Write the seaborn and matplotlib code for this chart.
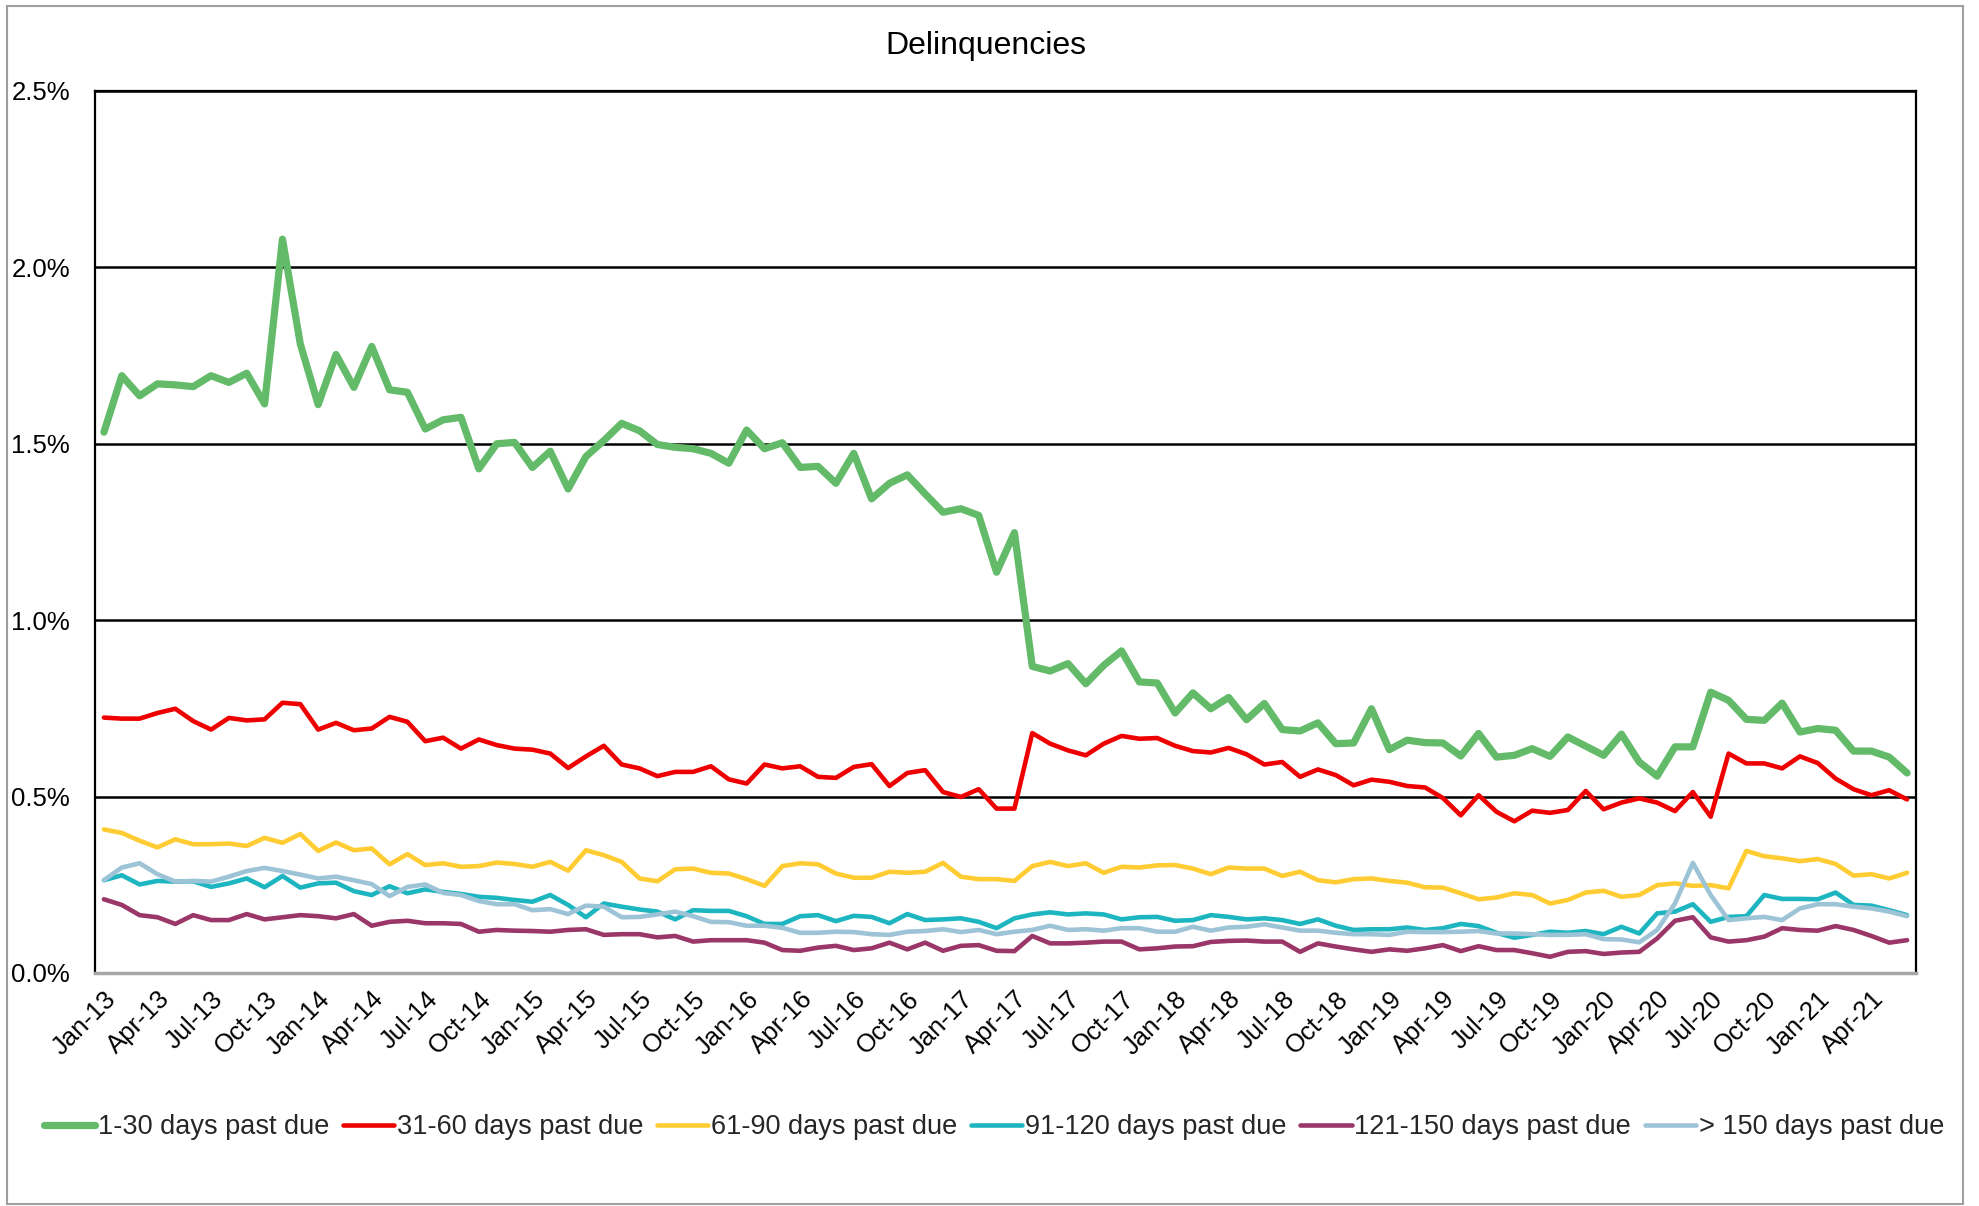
import seaborn as sns
import pandas as pd
import matplotlib.pyplot as plt
from matplotlib.patches import Rectangle
from matplotlib.ticker import FuncFormatter

# monthly delinquency rates in %, Jan-13 .. Jun-21
months = pd.date_range("2013-01-01", periods=102, freq="MS").strftime("%b-%y").tolist()

d1_30 = [1.533, 1.693, 1.636, 1.670, 1.667, 1.662, 1.693, 1.674, 1.700, 1.613, 2.080, 1.783, 1.611, 1.753,
         1.660, 1.776, 1.653, 1.646, 1.542, 1.568, 1.575, 1.429, 1.500, 1.504, 1.433, 1.479, 1.372, 1.464,
         1.509, 1.558, 1.537, 1.498, 1.490, 1.486, 1.473, 1.445, 1.539, 1.486, 1.503, 1.433, 1.436, 1.388,
         1.473, 1.344, 1.388, 1.412, 1.358, 1.306, 1.316, 1.297, 1.136, 1.248,
         0.869, 0.856, 0.877, 0.820, 0.872, 0.913, 0.825, 0.822, 0.737, 0.794, 0.749, 0.781, 0.718, 0.764,
         0.690, 0.686, 0.709, 0.650, 0.652, 0.749, 0.633, 0.660, 0.653, 0.652, 0.615, 0.679, 0.612,
         0.617, 0.636, 0.614, 0.669, 0.643, 0.617, 0.677, 0.598, 0.558, 0.641, 0.641, 0.796, 0.773, 0.719,
         0.716, 0.765, 0.683, 0.693, 0.688, 0.629, 0.629, 0.612, 0.567]
d31_60 = [0.724, 0.721, 0.721, 0.737, 0.749, 0.714, 0.690, 0.723, 0.716, 0.719, 0.766, 0.762, 0.690, 0.709,
          0.688, 0.693, 0.726, 0.712, 0.657, 0.667, 0.636, 0.662, 0.646, 0.636, 0.633, 0.622, 0.581, 0.614,
          0.644, 0.591, 0.580, 0.558, 0.570, 0.570, 0.586, 0.549, 0.537, 0.591, 0.580, 0.586, 0.556, 0.553,
          0.584, 0.592, 0.530, 0.567, 0.575, 0.513, 0.499, 0.521, 0.466, 0.466,
          0.680, 0.650, 0.631, 0.617, 0.650, 0.672, 0.664, 0.666, 0.644, 0.629, 0.625, 0.638, 0.620, 0.591,
          0.598, 0.556, 0.577, 0.561, 0.532, 0.548, 0.542, 0.530, 0.526, 0.496,
          0.447, 0.504, 0.457, 0.430, 0.460, 0.454, 0.462, 0.516, 0.464, 0.483, 0.495, 0.483, 0.459, 0.513,
          0.443, 0.622, 0.594, 0.594, 0.580, 0.614, 0.595, 0.551, 0.521, 0.504, 0.518, 0.492]
d61_90 = [0.407, 0.397, 0.375, 0.356, 0.379, 0.365, 0.365, 0.367, 0.360, 0.383, 0.369, 0.394, 0.346, 0.370,
          0.348, 0.353, 0.308, 0.337, 0.306, 0.311, 0.301, 0.303, 0.313, 0.309, 0.301, 0.315, 0.290, 0.348,
          0.334, 0.315, 0.268, 0.260, 0.294,
          0.296, 0.284, 0.282, 0.266, 0.247, 0.303, 0.311, 0.308, 0.282, 0.270, 0.270, 0.287, 0.284, 0.287,
          0.312, 0.273, 0.266, 0.266, 0.261, 0.303, 0.315, 0.303, 0.311, 0.284, 0.301, 0.299, 0.305, 0.306,
          0.296, 0.280, 0.299, 0.296,
          0.296, 0.275, 0.287, 0.263, 0.257, 0.266, 0.268, 0.261, 0.256, 0.243, 0.242, 0.226, 0.209, 0.214,
          0.226, 0.221, 0.197, 0.207, 0.228, 0.233, 0.216, 0.221, 0.249, 0.254, 0.247, 0.249, 0.240, 0.346,
          0.331, 0.325, 0.317, 0.323, 0.309, 0.276, 0.280, 0.268, 0.284]
d91_120 = [0.263, 0.277, 0.251, 0.261, 0.259, 0.260, 0.244, 0.254, 0.268, 0.243, 0.275, 0.242, 0.254, 0.256,
           0.232, 0.221, 0.246, 0.226, 0.237, 0.230, 0.224, 0.216, 0.213, 0.207, 0.202, 0.221, 0.193, 0.158,
           0.197, 0.188, 0.180, 0.174, 0.152,
           0.178, 0.176, 0.176, 0.161, 0.139, 0.139, 0.161, 0.164, 0.147, 0.162, 0.159, 0.141, 0.167, 0.150,
           0.152, 0.155, 0.145, 0.127, 0.155, 0.166, 0.172, 0.166, 0.169, 0.166, 0.152, 0.158, 0.159, 0.148,
           0.150, 0.164, 0.159, 0.152,
           0.155, 0.150, 0.139, 0.152, 0.134, 0.122, 0.124, 0.124, 0.129, 0.122, 0.127, 0.139, 0.133, 0.114,
           0.100, 0.108, 0.117, 0.114, 0.119, 0.110, 0.131, 0.112, 0.169, 0.174, 0.195, 0.145, 0.159, 0.161,
           0.221, 0.210, 0.210, 0.209, 0.228, 0.193, 0.191, 0.178, 0.164]
d121_150 = [0.209, 0.193, 0.164, 0.158, 0.139, 0.164, 0.150, 0.150, 0.167, 0.152, 0.158, 0.164, 0.161, 0.155,
            0.167, 0.134, 0.145, 0.148, 0.141, 0.141, 0.139, 0.117, 0.122, 0.120, 0.119, 0.117, 0.122, 0.124,
            0.108, 0.110, 0.110, 0.101, 0.105,
            0.089, 0.093, 0.093, 0.093, 0.086, 0.065, 0.063, 0.072, 0.077, 0.065, 0.070, 0.086, 0.067, 0.086,
            0.063, 0.077, 0.079, 0.063, 0.062, 0.105, 0.084, 0.084, 0.086, 0.089, 0.089, 0.067, 0.070, 0.075,
            0.076, 0.088, 0.091, 0.092,
            0.089, 0.089, 0.060, 0.084, 0.075, 0.067, 0.060, 0.067, 0.063, 0.070, 0.079, 0.062, 0.076, 0.065,
            0.065, 0.056, 0.046, 0.060, 0.062, 0.054, 0.058, 0.060, 0.098, 0.148, 0.158, 0.101, 0.089, 0.093,
            0.103, 0.127, 0.122, 0.120, 0.133, 0.122, 0.105, 0.086, 0.093]
d150_plus = [0.263, 0.299, 0.311, 0.280, 0.259, 0.261, 0.259, 0.273, 0.289, 0.298, 0.289, 0.279, 0.268, 0.273,
             0.263, 0.252, 0.218, 0.244, 0.251, 0.227, 0.221, 0.204, 0.195, 0.195, 0.178, 0.181, 0.167, 0.191,
             0.188, 0.158, 0.159, 0.166, 0.174,
             0.161, 0.145, 0.144, 0.134, 0.134, 0.128, 0.114, 0.114, 0.117, 0.116, 0.110, 0.108, 0.117, 0.119,
             0.124, 0.116, 0.122, 0.110, 0.117, 0.122, 0.134, 0.122, 0.124, 0.120, 0.127, 0.127, 0.117, 0.117,
             0.131, 0.120, 0.129, 0.131,
             0.138, 0.129, 0.120, 0.120, 0.114, 0.110, 0.110, 0.108, 0.117, 0.116, 0.116, 0.117, 0.119, 0.112,
             0.112, 0.110, 0.108, 0.108, 0.110, 0.096, 0.095, 0.087, 0.122, 0.197, 0.312, 0.221, 0.150, 0.155,
             0.159, 0.150, 0.183, 0.195, 0.195, 0.188, 0.183, 0.174, 0.161]

series = ["1-30 days past due", "31-60 days past due", "61-90 days past due",
          "91-120 days past due", "121-150 days past due", "> 150 days past due"]
values = [d1_30, d31_60, d61_90, d91_120, d121_150, d150_plus]
colors = ["#63BB6A", "#EE0000", "#FFCC33", "#1DB6C0", "#9B3768", "#9DC3D6"]
widths = [5.2, 3.3, 3.3, 3.3, 3.3, 3.3]

sns.set_theme(style="white")
plt.rcParams["font.family"] = ["Liberation Sans", "DejaVu Sans"]

fig = plt.figure(figsize=(19.79, 12.06), dpi=100)
ax = fig.add_axes([95 / 1979, 1 - 973 / 1206, (1916 - 95) / 1979, (973 - 91) / 1206])

idx = list(range(len(months)))
for name, vals, c, w in zip(series, values, colors, widths):
    sns.lineplot(x=idx, y=vals, color=c, linewidth=w, label=name, ax=ax)

ax.set_xlim(-0.5, len(months) - 0.5)
ax.set_ylim(0, 2.5)
ax.set_yticks([0, 0.5, 1.0, 1.5, 2.0, 2.5])
ax.yaxis.set_major_formatter(FuncFormatter(lambda v, p: "%.1f%%" % v))
ax.set_xticks(idx[::3])
ax.set_xticklabels(months[::3], rotation=45, ha="right", rotation_mode="anchor")
ax.tick_params(axis="x", length=0, pad=10, labelsize=18.5, colors="black")
ax.tick_params(axis="y", length=0, pad=18, labelsize=18.5, colors="black")
ax.grid(axis="y", color="black", linewidth=1.8)
ax.set_axisbelow(True)
for s in ["left", "right", "top"]:
    ax.spines[s].set_color("black")
    ax.spines[s].set_linewidth(1.6)
ax.spines["bottom"].set_color("#A6A6A6")
ax.spines["bottom"].set_linewidth(2.5)
ax.set_xlabel("")
ax.set_ylabel("")

fig.text(986 / 1979, 1 - 46 / 1206, "Delinquencies", fontsize=23, ha="center", va="center", color="black")

handles, labels = ax.get_legend_handles_labels()
ax.get_legend().remove()
fig.legend(handles, labels, loc="center", ncol=6, frameon=False, fontsize=19.5,
           bbox_to_anchor=(0.5022, 1 - 1127 / 1206), handlelength=1.9,
           handletextpad=0.1, columnspacing=0.5)

fig.patches.append(Rectangle((7 / 1979, 1 - 1204 / 1206), 1956 / 1979, 1198 / 1206,
                             transform=fig.transFigure, fill=False, edgecolor="#A0A0A0", linewidth=1.5))

plt.savefig("out.png", dpi=100)
